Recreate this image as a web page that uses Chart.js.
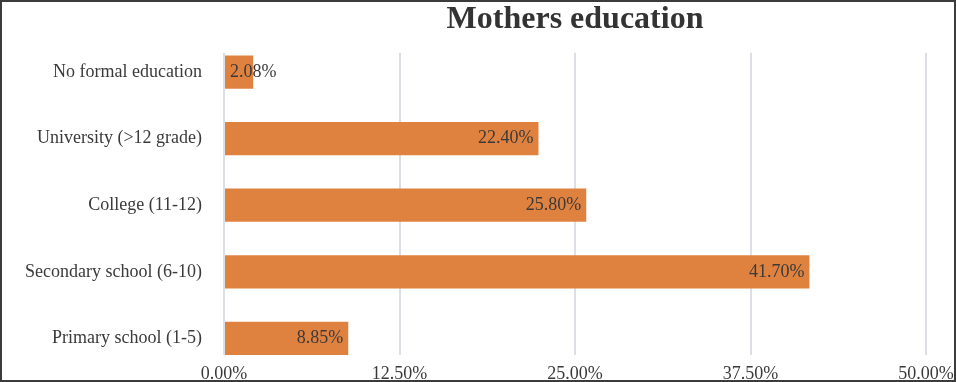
<!DOCTYPE html>
<html><head><meta charset="utf-8">
<script src="https://cdn.jsdelivr.net/npm/chart.js@4"></script>
<style>
html,body{margin:0;padding:0;background:#fff}
#wrap{width:956px;height:382px;box-sizing:border-box;border:2px solid #3b3b3b;position:relative;background:#fff}
canvas{display:block}
</style></head>
<body><div id="wrap"><canvas id="c"></canvas></div>
<script>
const categories = ['No formal education', 'University (>12 grade)', 'College (11-12)', 'Secondary school (6-10)', 'Primary school (1-5)'];
const values = [2.08, 22.40, 25.80, 41.70, 8.85];
const xTickValues = [0, 12.5, 25, 37.5, 50];
const xTickLabels = ['0.00%', '12.50%', '25.00%', '37.50%', '50.00%'];
const titleText = 'Mothers education';

const FONT = '"Liberation Serif", "Times New Roman", serif';
Chart.defaults.font.family = FONT;
Chart.defaults.color = '#3a3a3a';

const barLabels = {
  id: 'barLabels',
  afterDatasetsDraw(chart) {
    const ctx = chart.ctx;
    const meta = chart.getDatasetMeta(0);
    ctx.save();
    ctx.font = '18px ' + FONT;
    ctx.fillStyle = '#3a3a3a';
    ctx.textBaseline = 'middle';
    meta.data.forEach((bar, i) => {
      const txt = values[i].toFixed(2) + '%';
      const w = ctx.measureText(txt).width;
      if (bar.x - bar.base >= w + 10) {
        ctx.textAlign = 'right';
        ctx.fillText(txt, bar.x - 5, bar.y);
      } else {
        ctx.textAlign = 'left';
        ctx.fillText(txt, bar.base + 5, bar.y);
      }
    });
    ctx.restore();
  }
};

function noPad(s) { s.paddingLeft = 0; s.paddingRight = 0; s.paddingTop = 0; s.paddingBottom = 0; }

const data = values.map((v, i) => ({ x: v, y: i }));

new Chart(document.getElementById('c'), {
  type: 'bar',
  data: {
    datasets: [{
      data: data,
      backgroundColor: '#e0823f',
      borderWidth: 0,
      barPercentage: 0.5,
      categoryPercentage: 1.0
    }]
  },
  options: {
    indexAxis: 'y',
    responsive: true,
    maintainAspectRatio: false,
    animation: false,
    layout: { padding: { left: 0, right: 28, top: 0, bottom: 0 } },
    plugins: {
      legend: { display: false },
      tooltip: { enabled: false },
      title: {
        display: true,
        text: titleText,
        fullSize: false,
        color: '#333333',
        font: { family: FONT, size: 32, weight: 'bold', lineHeight: 0.9 },
        padding: { top: 3, bottom: 19 }
      }
    },
    scales: {
      x: {
        type: 'linear',
        position: 'bottom',
        min: 0,
        max: 50,
        offset: false,
        afterFit(s) { s.height = 25; noPad(s); },
        afterBuildTicks(s) { s.ticks = xTickValues.map(v => ({ value: v })); },
        ticks: {
          stepSize: 12.5,
          autoSkip: false,
          maxRotation: 0,
          padding: 8,
          color: '#3a3a3a',
          font: { size: 18 },
          callback: (v, i) => xTickLabels[i]
        },
        grid: { color: '#dcdfe6', lineWidth: 2, drawTicks: false, offset: false },
        border: { display: false }
      },
      y: {
        type: 'linear',
        position: 'left',
        reverse: true,
        offset: false,
        min: -0.29,
        max: 4.25,
        afterFit(s) { s.width = 222; noPad(s); },
        ticks: {
          stepSize: 1,
          includeBounds: false,
          autoSkip: false,
          padding: 22,
          color: '#3a3a3a',
          font: { size: 18 },
          callback: (v) => (Number.isInteger(v) && categories[v] !== undefined) ? categories[v] : ''
        },
        grid: { display: false, drawTicks: false, offset: false },
        border: { display: false }
      }
    }
  },
  plugins: [barLabels]
});
</script>
</body></html>
